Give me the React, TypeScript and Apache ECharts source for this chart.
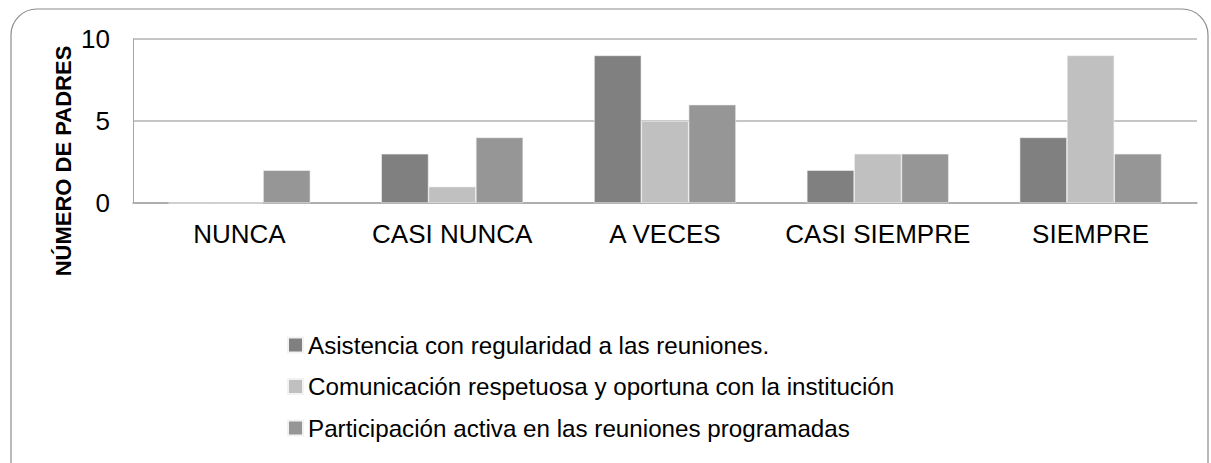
import React, { useEffect, useRef } from "react";
import * as echarts from "echarts";

const categories = ["NUNCA", "CASI NUNCA", "A VECES", "CASI SIEMPRE", "SIEMPRE"];
const seriesNames = [
  "Asistencia con regularidad a las reuniones.",
  "Comunicación respetuosa y oportuna con la institución",
  "Participación activa en las reuniones programadas",
];
const asistencia = [0, 3, 9, 2, 4];
const comunicacion = [0, 1, 5, 3, 9];
const participacion = [2, 4, 6, 3, 3];
const seriesColors = ["#808080", "#c0c0c0", "#969696"];
const yAxisTitle = "NÚMERO DE PADRES";

export default function App() {
  const ref = useRef<HTMLDivElement>(null);
  useEffect(() => {
    document.body.style.margin = "0";
    const chart = echarts.init(ref.current!, null, { renderer: "svg" });
    const font = "'Liberation Sans', Arial, sans-serif";
    const data = [asistencia, comunicacion, participacion];
    chart.setOption({
      animation: false,
      backgroundColor: "#ffffff",
      textStyle: { fontFamily: font },
      grid: { left: 133, right: 14, top: 39, bottom: 260 },
      xAxis: {
        type: "category",
        data: categories,
        axisLine: { show: true, lineStyle: { color: "#a6a6a6", width: 1.5 } },
        axisTick: { show: false },
        axisLabel: {
          color: "#000",
          fontSize: 26,
          margin: 18,
          fontFamily: font,
          interval: 0,
          hideOverlap: false,
        },
      },
      yAxis: {
        type: "value",
        min: 0,
        max: 10,
        interval: 5,
        axisLine: { show: true, lineStyle: { color: "#a6a6a6", width: 1 } },
        axisTick: { show: false },
        splitLine: { lineStyle: { color: "#b3b3b3", width: 1.5 } },
        axisLabel: { color: "#000", fontSize: 26, margin: 23, fontFamily: font },
      },
      legend: {
        orient: "vertical",
        left: 287,
        top: 333,
        padding: 0,
        itemWidth: 15,
        itemHeight: 15,
        itemGap: 17.5,
        icon: "rect",
        textStyle: { color: "#000", fontSize: 24.2, fontFamily: font },
        data: seriesNames,
      },
      series: seriesNames.map((name, i) => ({
        name,
        type: "bar",
        data: data[i],
        barGap: "0%",
        barCategoryGap: "33.3%",
        itemStyle: { color: seriesColors[i], borderColor: "#f2f2f2", borderWidth: 0.6 },
      })),
      graphic: [
        {
          type: "rect",
          shape: { x: 11, y: 9, width: 1197, height: 480, r: 26 },
          style: { fill: "none", stroke: "#8c8c8c", lineWidth: 1.2 },
          silent: true,
        },
        {
          type: "text",
          x: 63,
          y: 161,
          rotation: Math.PI / 2,
          style: {
            text: yAxisTitle,
            fontSize: 22,
            fontWeight: "bold",
            fontFamily: font,
            fill: "#000",
            align: "center",
            verticalAlign: "middle",
          },
        },
      ],
    });
    return () => chart.dispose();
  }, []);
  return (
    <div
      ref={ref}
      style={{ position: "fixed", left: 0, top: 0, width: 1211, height: 463 }}
    />
  );
}
